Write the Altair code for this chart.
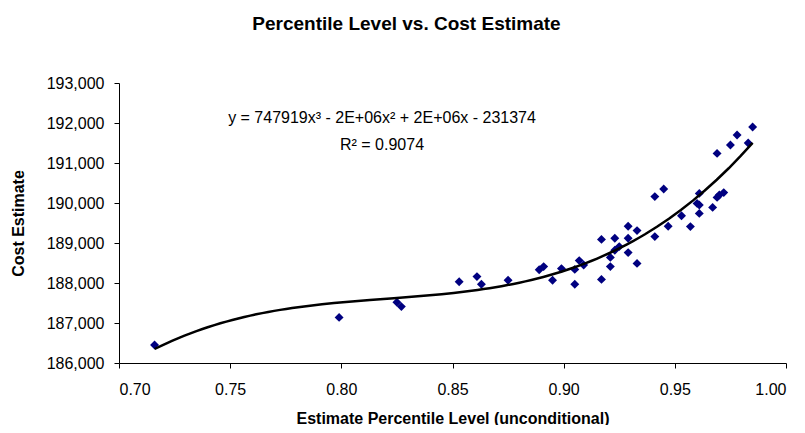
import altair as alt
import pandas as pd

# Data
pct = [0.716, 0.799, 0.825, 0.827, 0.853, 0.861, 0.863, 0.875, 0.889, 0.891,
       0.895, 0.899, 0.905, 0.905, 0.907, 0.909, 0.917, 0.917, 0.921, 0.921,
       0.923, 0.923, 0.925, 0.929, 0.929, 0.929, 0.933, 0.933, 0.941, 0.941,
       0.945, 0.947, 0.953, 0.957, 0.960, 0.961, 0.961, 0.961, 0.967, 0.969,
       0.970, 0.972, 0.969, 0.975, 0.978, 0.983, 0.985]
cost = [186450, 187140, 187520, 187410, 188030, 188160, 187970, 188070, 188330, 188410,
        188070, 188360, 188340, 187970, 188560, 188450, 188090, 189090, 188410, 188640,
        188820, 189120, 188910, 188760, 189120, 189420, 188490, 189310, 189160, 190160,
        190350, 189420, 189680, 189410, 189990, 189950, 189740, 190240, 189890, 190140,
        190200, 190260, 191240, 191450, 191700, 191500, 191900]

x_ticks = [0.70, 0.75, 0.80, 0.85, 0.90, 0.95, 1.00]
y_ticks = [186000, 187000, 188000, 189000, 190000, 191000, 192000, 193000]
annotations = ["y = 747919x\u00b3 - 2E+06x\u00b2 + 2E+06x - 231374", "R\u00b2 = 0.9074"]

df = pd.DataFrame({"pct": pct, "cost": cost})
FONT = "Liberation Sans"

xs = alt.Scale(domain=[0.70, 1.00], nice=False, zero=False)
ys = alt.Scale(domain=[186000, 193000], nice=False, zero=False)

x_axis = alt.Axis(values=x_ticks, format=".2f", title="Estimate Percentile Level (unconditional)",
                  labelPadding=13, titleY=55, titleBaseline="middle", labelOverlap=False)
y_axis = alt.Axis(values=y_ticks, format=",d", title="Cost Estimate", labelOverlap=False,
                  labelPadding=10, titleX=-101, titleY=140, titleBaseline="middle",
                  tickCount=8)

base = alt.Chart(df)

points = base.mark_point(shape="diamond", filled=True, size=80, color="#000080", opacity=1).encode(
    x=alt.X("pct:Q", scale=xs, axis=x_axis),
    y=alt.Y("cost:Q", scale=ys, axis=y_axis),
)

trend = base.transform_regression("pct", "cost", method="poly", order=3).mark_line(
    color="black", strokeWidth=2.5
).encode(
    x=alt.X("pct:Q", scale=xs, axis=x_axis),
    y=alt.Y("cost:Q", scale=ys, axis=y_axis),
)

eq = alt.Chart(pd.DataFrame({"t": [annotations[0]]})).mark_text(
    font=FONT, fontSize=16, color="black", align="center", baseline="middle"
).encode(x=alt.value(263), y=alt.value(35), text="t:N")

r2 = alt.Chart(pd.DataFrame({"t": [annotations[1]]})).mark_text(
    font=FONT, fontSize=16, color="black", align="center", baseline="middle"
).encode(x=alt.value(263), y=alt.value(62), text="t:N")

chart = alt.layer(points, trend, eq, r2).properties(
    width=667,
    height=280,
    autosize="none",
    padding={"left": 111, "top": 75, "right": 11, "bottom": 62},
    title=alt.Title("Percentile Level vs. Cost Estimate", font=FONT, fontSize=19, fontWeight="bold",
                    anchor="middle", dx=-46, offset=32, baseline="middle", color="black"),
).configure_axis(
    domainColor="black", tickColor="black", labelColor="black", titleColor="black",
    grid=False, labelFont=FONT, titleFont=FONT, labelFontSize=16, titleFontSize=16,
    titleFontWeight="bold", tickSize=5, domainWidth=1, tickWidth=1,
).configure_view(stroke=None)

chart.save("out.html", embed_options={"renderer": "svg", "actions": False})
